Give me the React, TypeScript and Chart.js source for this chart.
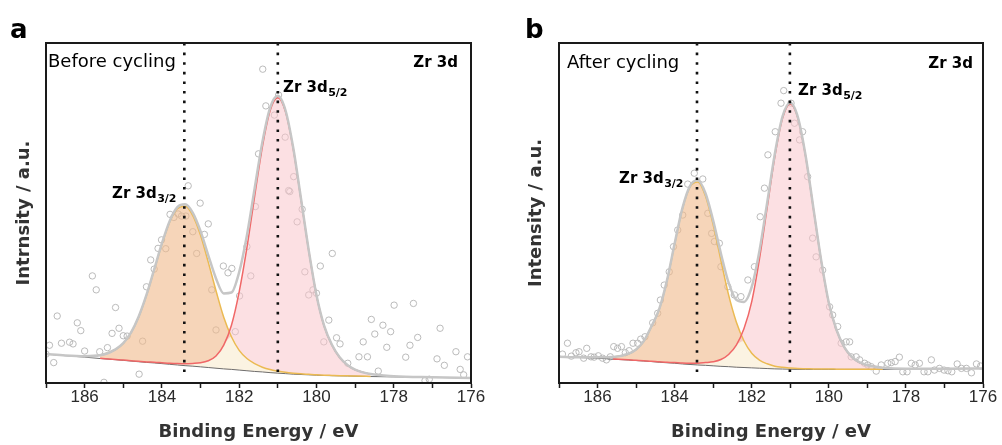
import React, { useEffect, useRef } from 'react';
import { Chart, registerables } from 'chart.js';

Chart.register(...registerables);

// ---------- DATA ----------
// Binding energy grid (eV) for fitted curves
const energyGrid = [
  187, 186.5, 186, 185.6, 185.2,
  185.0, 184.8, 184.6, 184.4, 184.2, 184.0, 183.8, 183.6, 183.4, 183.2,
  183.0, 182.8, 182.6, 182.4, 182.2, 182.0, 181.8, 181.6, 181.4, 181.2,
  181.0, 180.8, 180.6, 180.4, 180.2, 180.0, 179.8, 179.6, 179.4, 179.2,
  179.0,
  178.6, 178.0, 177.0, 176.0,
];

// Panel a (before cycling)
const backgroundA = [
  8.5, 8.05, 7.6, 7.2, 6.85,
  6.65, 6.45, 6.25, 6.05, 5.9, 5.7, 5.5, 5.3, 5.1, 4.95,
  4.75, 4.55, 4.35, 4.15, 4.0, 3.8, 3.6, 3.4, 3.25, 3.05,
  2.9, 2.75, 2.6, 2.5, 2.4, 2.3, 2.2, 2.15, 2.1, 2.05,
  2.0,
  1.9, 1.8, 1.65, 1.5,
];
const zr3d32A = [
  0, 0.05, 0.3, 0.9, 3.0,
  5.0, 8.3, 13.2, 19.7, 27.3, 35.1, 41.8, 46.0, 46.9, 44.3,
  38.7, 31.0, 22.8, 15.2, 9.6, 5.8, 3.6, 2.3, 1.4, 0.9,
  0.6, 0.4, 0.3, 0.2, 0.15, 0.1, 0.1, 0.08, 0.06, 0.05,
  0.04,
  0.03, 0, 0, 0,
];
const zr3d52A = [
  0, 0, 0, 0.05, 0.06,
  0.08, 0.1, 0.12, 0.15, 0.2, 0.25, 0.3, 0.4, 0.55, 0.8,
  1.2, 2.0, 3.6, 7.0, 13.0, 23.0, 36.2, 51.5, 66.2, 77.0,
  81.0, 77.0, 66.2, 51.5, 36.5, 23.5, 14.5, 9.0, 5.4, 3.2,
  1.9,
  0.7, 0.2, 0.05, 0,
];
const rawEnergyA = [
  187.0, 186.91, 186.8, 186.71, 186.6, 186.39, 186.3, 186.19, 186.1, 186.0,
  185.8, 185.7, 185.61, 185.5, 185.41, 185.29, 185.2, 185.11, 185.0, 184.9,
  184.59, 184.5, 184.4, 184.29, 184.2, 184.1, 184.01, 183.9, 183.79, 183.69,
  183.58, 183.49, 183.38, 183.32, 183.2, 183.1, 183.01, 182.9, 182.8, 182.71,
  182.6, 182.41, 182.29, 182.19, 182.1, 181.99, 181.8, 181.7, 181.58, 181.5,
  181.39, 181.31, 181.09, 180.98, 180.81, 180.72, 180.69, 180.59, 180.5, 180.37,
  180.3, 180.2, 180.09, 180.0, 179.9, 179.81, 179.68, 179.59, 179.48, 179.39,
  179.19, 178.9, 178.79, 178.68, 178.58, 178.49, 178.4, 178.28, 178.18, 178.08,
  177.99, 177.69, 177.58, 177.49, 177.38, 177.19, 177.08, 176.88, 176.8, 176.69,
  176.39, 176.28, 176.19, 176.09,
];
const rawIntensityA = [
  8.5, 11.1, 6.0, 19.7, 11.7, 12.0, 11.5, 17.7, 15.4, 9.4,
  31.5, 27.4, 9.2, 0.2, 10.4, 14.6, 22.2, 16.1, 13.9, 13.8,
  2.6, 12.3, 28.3, 36.2, 33.5, 39.6, 42.1, 39.5, 49.6, 48.7,
  49.7, 49.1, 49.1, 58.0, 44.5, 38.1, 52.9, 43.7, 46.8, 27.4,
  15.6, 34.4, 32.4, 33.7, 15.1, 25.6, 40.1, 31.5, 51.9, 67.4,
  92.3, 81.5, 78.8, 84.7, 72.3, 56.6, 56.3, 60.7, 47.4, 51.1,
  32.7, 25.9, 27.4, 26.4, 34.4, 12.1, 18.5, 38.1, 13.3, 11.5,
  5.8, 7.7, 12.1, 7.7, 18.7, 14.4, 3.5, 17.0, 10.5, 15.1,
  22.9, 7.6, 11.1, 23.4, 13.4, 0.7, 1.1, 7.1, 16.1, 5.2,
  9.2, 4.0, 2.4, 7.7,
];

// Panel b (after cycling)
const backgroundB = [
  7.7, 7.5, 7.3, 7.0, 6.75,
  6.6, 6.45, 6.3, 6.1, 5.95, 5.8, 5.6, 5.45, 5.3, 5.2,
  5.05, 4.9, 4.8, 4.65, 4.55, 4.45, 4.35, 4.25, 4.15, 4.1,
  4.05, 4.0, 4.0, 4.0, 4.0, 4.0, 4.0, 4.0, 4.0, 4.0,
  4.0,
  4.0, 4.05, 4.15, 4.3,
];
const zr3d32B = [
  0, 0.05, 0.3, 0.6, 1.8,
  3.2, 5.8, 10.3, 15.5, 24.0, 35.0, 45.5, 52.2, 53.8, 49.8,
  41.5, 31.2, 21.1, 13.3, 7.8, 4.3, 2.4, 1.4, 0.8, 0.5,
  0.35, 0.25, 0.2, 0.15, 0.1, 0.1, 0.08, 0.06, 0.05, 0.04,
  0.03,
  0.02, 0, 0, 0,
];
const zr3d52B = [
  0, 0, 0, 0.05, 0.06,
  0.07, 0.08, 0.1, 0.12, 0.15, 0.2, 0.25, 0.35, 0.5, 0.8,
  1.2, 2.0, 3.6, 6.5, 11.5, 19.5, 32.1, 47.3, 62.5, 73.8,
  78.0, 73.8, 62.5, 47.3, 32.1, 19.5, 11.5, 6.5, 3.6, 2.0,
  1.2,
  0.5, 0.15, 0.05, 0,
];
const rawEnergyB = [
  186.91, 186.78, 186.68, 186.56, 186.48, 186.36, 186.28, 186.17, 186.09, 185.98,
  185.87, 185.77, 185.67, 185.58, 185.48, 185.38, 185.28, 185.18, 185.08, 184.96,
  184.88, 184.77, 184.57, 184.44, 184.37, 184.27, 184.14, 184.03, 183.92, 183.79,
  183.66, 183.49, 183.27, 183.14, 183.04, 182.97, 182.84, 182.8, 182.62, 182.45,
  182.28, 182.1, 181.93, 181.78, 181.67, 181.58, 181.39, 181.24, 181.17, 180.98,
  180.89, 180.76, 180.68, 180.55, 180.42, 180.33, 180.16, 179.98, 179.9, 179.77,
  179.68, 179.55, 179.46, 179.42, 179.29, 179.2, 179.07, 178.99, 178.9, 178.77,
  178.64, 178.47, 178.38, 178.28, 178.17, 178.08, 177.97, 177.86, 177.76, 177.65,
  177.53, 177.43, 177.34, 177.26, 177.13, 177.01, 176.91, 176.81, 176.67, 176.56,
  176.43, 176.3, 176.17, 176.06,
];
const rawIntensityB = [
  8.5, 11.7, 7.9, 8.9, 9.2, 7.3, 10.2, 7.7, 7.6, 8.0,
  7.3, 6.8, 7.7, 10.7, 10.2, 10.7, 8.9, 9.5, 11.7, 11.7,
  12.9, 13.6, 17.7, 20.5, 24.4, 28.8, 32.7, 40.1, 45.0, 49.4,
  58.5, 61.7, 60.0, 49.9, 44.0, 41.6, 41.1, 34.2, 28.3, 25.9,
  25.4, 30.3, 34.2, 48.9, 57.3, 67.1, 73.9, 82.3, 86.0, 82.3,
  76.4, 71.5, 73.9, 60.7, 42.6, 37.1, 33.2, 22.4, 20.0, 16.6,
  11.7, 12.1, 12.1, 7.7, 7.7, 6.8, 5.8, 5.3, 4.8, 3.5,
  5.3, 5.8, 6.0, 6.3, 7.6, 3.3, 3.3, 5.8, 5.3, 5.8,
  3.3, 3.3, 6.8, 3.8, 4.3, 3.8, 3.6, 3.3, 5.6, 4.3,
  4.3, 3.0, 5.6, 5.0,
];

const peakCentersA = [183.42, 181.0];
const peakCentersB = [183.42, 181.01];
const componentRange = [178.6, 185.6];
const xMin = 176;
const xMax = 187;
const xLabelStep = 2;

// ---------- CHART ----------
type Label = { text: string; sub?: string; x: number; y: number; font: string; subFont?: string; align?: CanvasTextAlign };

type PanelSpec = {
  bg: number[];
  p32: number[];
  p52: number[];
  rawE: number[];
  rawI: number[];
  centers: number[];
  yTitle: string;
  yTitlePad: number;
  padRight: number;
  yWidth: number;
  labels: Label[];
};

function buildDatasets(s: PanelSpec): any[] {
  const inRange = (e: number) => e >= componentRange[0] - 1e-9 && e <= componentRange[1] + 1e-9;
  const bgPts = energyGrid.map((e, i) => ({ x: e, y: s.bg[i] }));
  const abs32 = energyGrid.map((e, i) => ({ x: e, y: s.bg[i] + s.p32[i] })).filter((p) => inRange(p.x));
  const abs52 = energyGrid.map((e, i) => ({ x: e, y: s.bg[i] + s.p52[i] })).filter((p) => inRange(p.x));
  const overlap = energyGrid
    .map((e, i) => ({ x: e, y: s.bg[i] + Math.min(s.p32[i], s.p52[i]) }))
    .filter((p) => inRange(p.x));
  const envelope = energyGrid.map((e, i) => ({ x: e, y: s.bg[i] + s.p32[i] + s.p52[i] }));
  const base = { pointRadius: 0, cubicInterpolationMode: 'monotone', fill: false };
  const transparent = 'rgba(0,0,0,0)';
  const ds: any[] = [
    { ...base, data: bgPts, borderColor: '#6e6e6e', borderWidth: 1, order: 6 },
    { ...base, data: abs32, borderColor: transparent, borderWidth: 1, fill: 0, backgroundColor: 'rgba(240,188,142,0.62)', order: 9 },
    { ...base, data: abs52, borderColor: transparent, borderWidth: 1, fill: 0, backgroundColor: 'rgba(250,198,204,0.55)', order: 8 },
    { ...base, data: overlap, borderColor: transparent, borderWidth: 1, fill: 0, backgroundColor: 'rgb(251,243,226)', order: 7 },
    { ...base, data: abs32, borderColor: '#EBBA52', borderWidth: 1.5, order: 5 },
    { ...base, data: abs52, borderColor: '#F06767', borderWidth: 1.5, order: 4 },
    { ...base, data: envelope, borderColor: '#C6C6C6', borderWidth: 2.5, order: 3 },
    {
      data: s.rawE.map((e, i) => ({ x: e, y: s.rawI[i] })),
      showLine: false,
      pointRadius: 3.2,
      pointBorderWidth: 0.9,
      pointBorderColor: '#b3b3b3',
      pointBackgroundColor: 'rgba(255,255,255,0)',
      order: 10,
    },
  ];
  s.centers.forEach((c) => {
    ds.push({
      data: [{ x: c, y: 100 }, { x: c, y: 1.2 }],
      pointRadius: 0,
      borderColor: '#111',
      borderWidth: 2.6,
      borderDash: [2.6, 7],
      borderCapStyle: 'butt',
      fill: false,
      order: 1,
    });
  });
  return ds;
}

function overlayPlugin(labels: Label[]) {
  return {
    id: 'overlay',
    afterDraw(chart: any) {
      const { ctx, chartArea: a } = chart;
      ctx.save();
      ctx.strokeStyle = '#1a1a1a';
      ctx.lineWidth = 2;
      ctx.strokeRect(a.left, a.top, a.right - a.left, a.bottom - a.top);
      ctx.fillStyle = '#000';
      ctx.textBaseline = 'alphabetic';
      labels.forEach((l) => {
        ctx.font = l.font;
        ctx.textAlign = l.align || 'left';
        ctx.fillText(l.text, l.x, l.y);
        if (l.sub) {
          const w = ctx.measureText(l.text).width;
          ctx.font = l.subFont || l.font;
          ctx.textAlign = 'left';
          ctx.fillText(l.sub, l.x + w + 0.5, l.y + 3.5);
        }
      });
      ctx.restore();
    },
  };
}

function makeConfig(s: PanelSpec): any {
  return {
    type: 'line',
    data: { datasets: buildDatasets(s) },
    plugins: [overlayPlugin(s.labels)],
    options: {
      responsive: false,
      animation: false,
      events: [],
      layout: { padding: { top: 43, right: s.padRight, left: 0, bottom: 0 } },
      plugins: {
        legend: { display: false },
        tooltip: { enabled: false },
        filler: { drawTime: 'beforeDatasetDraw' },
      },
      scales: {
        x: {
          type: 'linear',
          min: xMin,
          max: xMax,
          reverse: true,
          ticks: {
            stepSize: 1,
            autoSkip: false,
            maxRotation: 0,
            padding: -1,
            color: '#2a2a2a',
            font: { family: 'Liberation Sans', size: 17 },
            callback: (v: any) => (Number(v) % xLabelStep === 0 ? String(v) : ''),
          },
          grid: { drawOnChartArea: false, drawTicks: true, tickLength: 5, tickColor: '#1a1a1a', tickWidth: 1.5 },
          border: { display: true, color: '#1a1a1a', width: 2 },
          title: {
            display: true,
            text: 'Binding Energy / eV',
            color: '#333',
            font: { family: 'DejaVu Sans', size: 18, weight: 'bold' },
            padding: { top: 0, bottom: 2 },
          },
          afterFit: (sc: any) => {
            sc.height = 62;
          },
        },
        y: {
          min: 0,
          max: 100,
          ticks: { display: false },
          grid: { display: false, drawTicks: false },
          border: { display: true, color: '#1a1a1a', width: 2 },
          title: {
            display: true,
            text: s.yTitle,
            color: '#333',
            font: { family: 'DejaVu Sans', size: 18, weight: 'bold' },
            padding: { top: s.yTitlePad, bottom: 0 },
          },
          afterFit: (sc: any) => {
            sc.width = s.yWidth;
          },
        },
      },
    },
  };
}

const panelA: PanelSpec = {
  bg: backgroundA,
  p32: zr3d32A,
  p52: zr3d52A,
  rawE: rawEnergyA,
  rawI: rawIntensityA,
  centers: peakCentersA,
  yTitle: 'Intrnsity / a.u.',
  yTitlePad: 14,
  padRight: 30,
  yWidth: 46,
  labels: [
    { text: 'a', x: 10, y: 38, font: 'bold 26px "DejaVu Sans"' },
    { text: 'Before cycling', x: 48, y: 67, font: '18px "DejaVu Sans"' },
    { text: 'Zr 3d', x: 458, y: 67, font: 'bold 15px "DejaVu Sans"', align: 'right' },
    { text: 'Zr 3d', sub: '5/2', x: 283, y: 92, font: 'bold 15px "DejaVu Sans"', subFont: 'bold 11px "DejaVu Sans"' },
    { text: 'Zr 3d', sub: '3/2', x: 112, y: 198, font: 'bold 15px "DejaVu Sans"', subFont: 'bold 11px "DejaVu Sans"' },
  ],
};

const panelB: PanelSpec = {
  bg: backgroundB,
  p32: zr3d32B,
  p52: zr3d52B,
  rawE: rawEnergyB,
  rawI: rawIntensityB,
  centers: peakCentersB,
  yTitle: 'Intensity / a.u.',
  yTitlePad: 25,
  padRight: 19,
  yWidth: 58,
  labels: [
    { text: 'b', x: 24, y: 38, font: 'bold 26px "DejaVu Sans"' },
    { text: 'After cycling', x: 66, y: 68, font: '18px "DejaVu Sans"' },
    { text: 'Zr 3d', x: 472, y: 68, font: 'bold 15px "DejaVu Sans"', align: 'right' },
    { text: 'Zr 3d', sub: '5/2', x: 297, y: 95, font: 'bold 15px "DejaVu Sans"', subFont: 'bold 11px "DejaVu Sans"' },
    { text: 'Zr 3d', sub: '3/2', x: 118, y: 183, font: 'bold 15px "DejaVu Sans"', subFont: 'bold 11px "DejaVu Sans"' },
  ],
};

function Panel({ spec }: { spec: PanelSpec }) {
  const ref = useRef<HTMLCanvasElement | null>(null);
  useEffect(() => {
    if (!ref.current) return;
    const chart = new Chart(ref.current, makeConfig(spec));
    return () => chart.destroy();
  }, [spec]);
  return <canvas ref={ref} width={501} height={445} style={{ display: 'block', width: 501, height: 445 }} />;
}

export default function App() {
  return (
    <div style={{ position: 'fixed', left: 0, top: 0, width: 1002, height: 445, background: '#fff' }}>
      <div style={{ position: 'absolute', left: 0, top: 0 }}>
        <Panel spec={panelA} />
      </div>
      <div style={{ position: 'absolute', left: 501, top: 0 }}>
        <Panel spec={panelB} />
      </div>
    </div>
  );
}
